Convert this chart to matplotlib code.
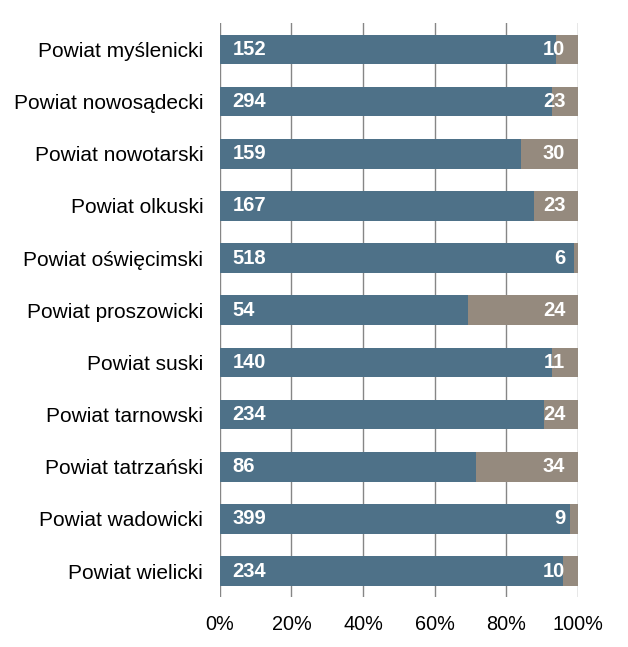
import matplotlib
matplotlib.use("Agg")
import matplotlib.pyplot as plt
import numpy as np

categories = ["Powiat myślenicki", "Powiat nowosądecki", "Powiat nowotarski",
              "Powiat olkuski", "Powiat oświęcimski", "Powiat proszowicki",
              "Powiat suski", "Powiat tarnowski", "Powiat tatrzański",
              "Powiat wadowicki", "Powiat wielicki"]
series_a = [152, 294, 159, 167, 518, 54, 140, 234, 86, 399, 234]
series_b = [10, 23, 30, 23, 6, 24, 11, 24, 34, 9, 10]
xticks = [0, 20, 40, 60, 80, 100]
xticklabels = ["0%", "20%", "40%", "60%", "80%", "100%"]

plt.rcParams['font.family'] = ['Liberation Sans', 'DejaVu Sans']

a = np.array(series_a, dtype=float)
b = np.array(series_b, dtype=float)
tot = a + b
pa = a / tot * 100
pb = b / tot * 100

fig = plt.figure(figsize=(6.28, 6.47), dpi=100)
ax = fig.add_axes([0.350, 0.077, 0.570, 0.887])

y = np.arange(len(categories))
blue = "#4E7188"
brown = "#958A7E"
ax.barh(y, pa, height=0.57, color=blue, zorder=2)
ax.barh(y, pb, left=pa, height=0.57, color=brown, zorder=2)

for i in range(len(categories)):
    ax.annotate(str(series_a[i]), xy=(0, y[i]), xytext=(9, 0), textcoords="offset points",
                ha="left", va="center", color="white", fontsize=14.5, fontweight="bold", zorder=3)
    ax.annotate(str(series_b[i]), xy=(100, y[i]), xytext=(-9, 0), textcoords="offset points",
                ha="right", va="center", color="white", fontsize=14.5, fontweight="bold", zorder=3)

ax.set_xlim(0, 100)
ax.set_ylim(len(categories) - 0.5, -0.5)
ax.set_yticks(y)
ax.set_yticklabels(categories, fontsize=15)
ax.set_xticks(xticks)
ax.set_xticklabels(xticklabels, fontsize=14.3)
ax.tick_params(axis="y", length=0, pad=12)
ax.tick_params(axis="x", length=0, pad=13)
ax.grid(axis="x", color="#868686", linewidth=1.0, zorder=1)
for s in ax.spines.values():
    s.set_visible(False)

fig.savefig("out.png", dpi=100)
